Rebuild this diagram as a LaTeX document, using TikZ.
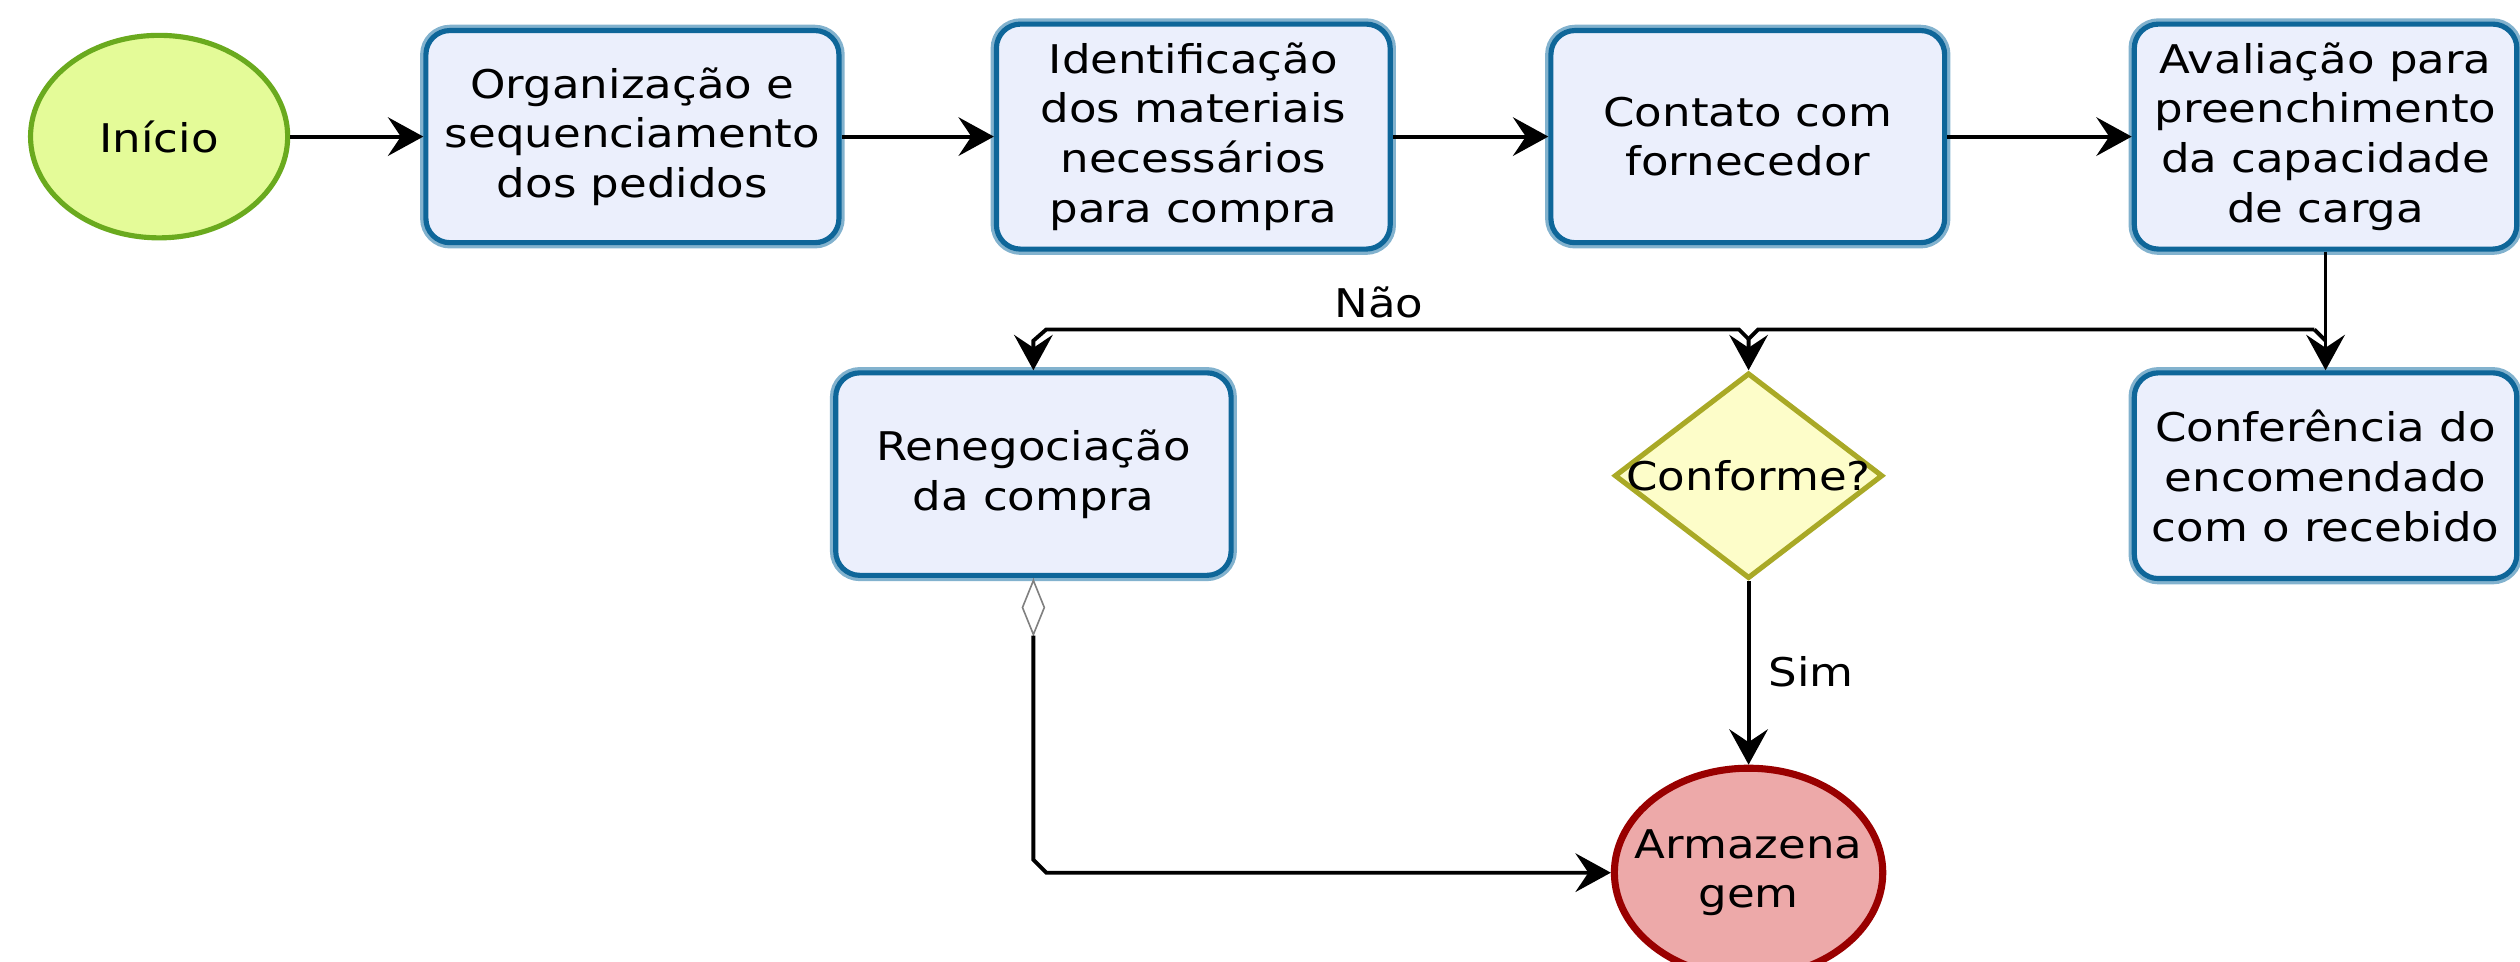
\documentclass[tikz,border=0pt]{standalone}
\usepackage{fontspec}
\setmainfont{DejaVu Sans}[FakeStretch=1.14]
\usetikzlibrary{shapes.geometric,arrows.meta}
\definecolor{boxfill}{HTML}{EBEFFC}
\definecolor{boxdraw}{HTML}{0E6699}
\definecolor{boxhalo}{HTML}{82B2CE}
\definecolor{startfill}{HTML}{E4FB98}
\definecolor{startdraw}{HTML}{6AAA1E}
\definecolor{gatefill}{HTML}{FDFDC9}
\definecolor{gatedraw}{HTML}{A9A926}
\definecolor{endfill}{HTML}{EDA9A9}
\definecolor{enddraw}{HTML}{990000}
\tikzset{
  task/.style={rectangle, rounded corners=7.5pt, fill=boxfill, draw=boxdraw, line width=1.6pt,
    preaction={draw=boxhalo, line width=3.6pt}, align=center, inner sep=2pt},
  startev/.style={ellipse, fill=startfill, draw=startdraw, line width=1.6pt, inner sep=0pt},
  endev/.style={ellipse, fill=endfill, draw=enddraw, line width=2.2pt, inner sep=0pt},
  gate/.style={diamond, fill=gatefill, draw=gatedraw, line width=1.6pt, inner sep=0pt},
  smalldia/.style={diamond, draw=black!50, fill=white, line width=0.5pt, inner sep=0pt,
    minimum width=7pt, minimum height=17pt},
  flow/.style={line width=1.2pt, -{Stealth[length=11pt,width=12pt,inset=4pt]}},
  plain/.style={line width=1.2pt},
  lbl/.style={inner sep=0pt}
}
\begin{document}
\begin{tikzpicture}[x=0.5pt,y=-0.5pt, font=\fontsize{12.3}{15.5}\selectfont]
\useasboundingbox (0,0) rectangle (1568,598);
% nodes
\node[startev, minimum width=80pt, minimum height=63pt, label={center:Início}] (inicio) at (99,85) {};
\node[task, minimum width=128.5pt, minimum height=66pt] (b1) at (393.5,85) {Organização e\\sequenciamento\\dos pedidos};
\node[task, minimum width=122.5pt, minimum height=70pt] (b2) at (742.5,85) {Identificação\\dos materiais\\necessários\\para compra};
\node[task, minimum width=122.5pt, minimum height=66pt] (b3) at (1087.5,85) {Contato com\\fornecedor};
\node[task, minimum width=119pt, minimum height=70pt] (b4) at (1447,85) {Avaliação para\\preenchimento\\da capacidade\\de carga};
\node[task, minimum width=119pt, minimum height=64pt] (b5) at (1447,296) {Conferência do\\encomendado\\com o recebido};
\node[task, minimum width=123pt, minimum height=63pt] (reneg) at (643,295) {Renegociação\\da compra};
\node[gate, minimum width=83.5pt, minimum height=64pt, label={center:Conforme?}] (dia) at (1088,296) {};
\node[endev, minimum width=83.5pt, minimum height=65pt, label={[align=center]center:Armazena\\gem}] (armaz) at (1088,543) {};
\node[smalldia] (sd) at (643,378) {};
% labels
\node[lbl] (nao) at (858,188) {Não};
\node[lbl] (sim) at (1127,418) {Sim};
% coordinates
\coordinate (cR) at (1447,212);
\coordinate (hR) at (1440,205);
\coordinate (dR) at (1094,205);
\coordinate (dM) at (1088,211);
\coordinate (dL) at (1082,205);
\coordinate (rR) at (651,205);
\coordinate (rB) at (643,212);
\coordinate (sB) at (643,535);
\coordinate (sR) at (651,543);
% connectors
\draw[flow] (inicio.east) -- (b1.west);
\draw[flow] (b1.east) -- (b2.west);
\draw[flow] (b2.east) -- (b3.west);
\draw[flow] (b3.east) -- (b4.west);
\draw[flow] (b4.south) -- (b5.north);
\draw[plain] (cR) -- (hR);
\draw[flow] (hR) -- (dR) -- (dM) -- (dia.north);
\draw[flow] (dM) -- (dL) -- (rR) -- (rB) -- (reneg.north);
\draw[flow] (dia.south) -- (armaz.north);
\draw[plain, line width=0.5pt, black!50] (reneg.south) -- (sd.north);
\draw[flow] (sd.south) -- (sB) -- (sR) -- (armaz.west);
\end{tikzpicture}
\end{document}
